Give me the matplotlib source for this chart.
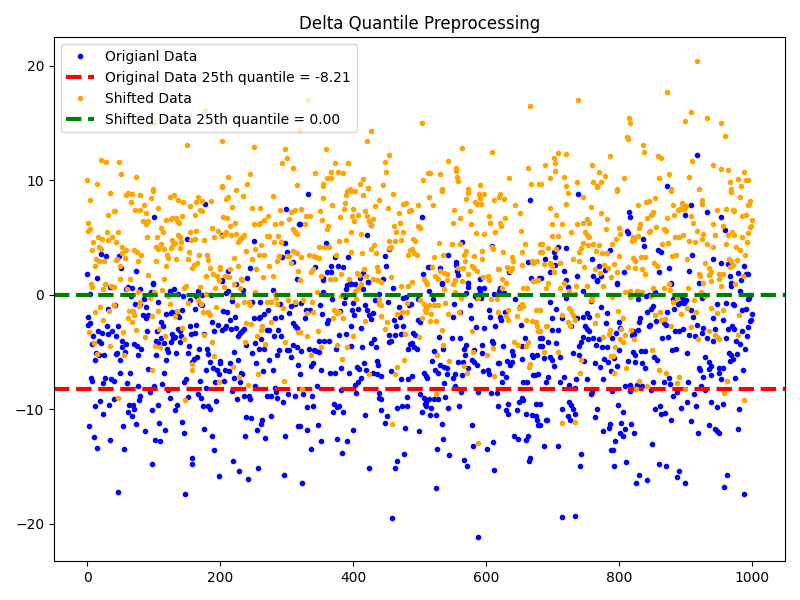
import numpy as np
import matplotlib
matplotlib.use("Agg")
import matplotlib.pyplot as plt

# (index, value) pairs of the original data
left_low = [(46,-17.2),(147,-17.4),(97,-14.8),(157,-14.3),(158,-14.8),(219,-14.5),(228,-15.4),(242,-16.1),(257,-15.1),(198,-15.8),(296,-15.7),
(191,-13.6),(55,-13.5),(15,-13.4),(34,-12.7),(10,-12.4),(102,-12.7),(109,-12.8),(145,-12.1),(188,-12.3),(237,-12.3),(267,-12.5),(297,-12.3),(3,-11.5),(54,-11.5),(73,-11.3),(87,-11.9),(108,-11.2),(117,-11.8),(142,-11.1),(176,-11.7),(255,-11.8),(261,-11.3),(263,-10.9),(239,-10.7),(246,-10.8),(276,-10.6),(317,-11.5),
(24,-10.4),(67,-10.6),(61,-10.2),(70,-10),(63,-9.6),(69,-9.6),(12,-9.7),(19,-9.3),(33,-9.6),(40,-9.1),(78,-9.2),(79,-8.8),(97,-10.1),(106,-9.6),(124,-9),(132,-10.1),(135,-9.6),(151,-8.9),(166,-8.7),(171,-9),(174,-9.7),(181,-9.7),(184,-10),(194,-9.3),(225,-9.1),(236,-8.8),(243,-8.8),(245,-9.1),(270,-8.8),(276,-8.8),(285,-9),(294,-9.4),(302,-8.7),(312,-8.8),(284,-8.5),
(77,-8),(100,-8),(94,-8.5),(121,-8.3),(179,-8.1),(218,-8.4),(282,-8.1),(252,-8)]
left_mid = [(6,-7.3),(7,-7.5),(27,-7.3),(24,-7.7),(36,-7.4),(40,-7.5),(60,-7.7),(49,-6.8),(64,-6.8),(91,-6.5),(115,-6.8),(112,-7.8),(149,-7.4),(146,-7.6),(169,-7.5),(192,-7.6),(206,-7.5),(179,-6.6),(189,-6.4),(195,-6.6),(198,-6.9),(207,-6.6),(213,-6.7),(199,-5.8),(200,-6),(184,-5.9),(215,-6),(227,-5.7),(221,-7.3),(230,-7.6),(231,-6.8),(233,-6.9),(264,-6.7),(279,-6.6),(254,-6),(273,-5.7),(317,-6.1),
(12,-5.7),(49,-5.7),(118,-5.7),(160,-5.6),(165,-5.4),(158,-5.9),(13,-5.1),(25,-5.3),(18,-5.3),(43,-5.2),(45,-5.1),(57,-5),(76,-5.3),(103,-5.3),(121,-5),(120,-4.7),(134,-5.1),(151,-5.1),(168,-4.7),(182,-5.2),(180,-4.7),(221,-5),(248,-5.1),(258,-4.7),(266,-4.7),(285,-5.3),(288,-4.8),(300,-4.8),(303,-4.8),(306,-5.4),(309,-4.4),(315,-4.6)]
left_high = [(7,-4.3),(18,-4),(21,-4.2),(52,-4),(58,-4.3),(53,-4.6),(70,-4.3),(75,-4.5),(81,-4.7),(103,-4),(106,-4.2),(111,-3.8),(115,-4.2),(126,-4.1),(129,-3.8),(127,-3.4),(132,-3.7),(139,-4.1),(153,-4.5),(141,-3.6),(136,-3),(139,-3.2),(154,-2.7),(164,-2.6),(156,-3.4),(162,-3.3),(176,-3.4),(191,-3.2),(188,-2.4),(197,-2.6),(203,-3.1),(207,-2.9),(209,-2.7),(216,-3),(224,-2.9),(215,-2.2),(222,-1.9),(204,-1.4),(210,-1.5),(227,-3.6),(230,-3.3),(233,-3.2),(236,-3),(239,-4.4),(252,-4.2),(261,-3.9),(281,-3.6),(291,-3.6),(273,-3.1),(270,-3.1),(287,-3.1),(309,-2.5),(312,-2.7),(315,-2.9),(282,-2),(291,-1.9),(303,-1.6),(260,-1.9),(266,-1.7),(272,-1.3),(251,-2),(258,-2),
(1,-1.9),(1,-2.6),(4,-2.5),(8,-3.6),(16,-3.2),(22,-3.3),(30,-2.7),(31,-3.4),(37,-3.2),(43,-3.6),(46,-2.7),(31,-1.2),(40,-0.9),(72,-0.8),(79,-0.8),(88,-1.1),(84,-1.8),(88,-2),(90,-3.2),(91,-1.8),(106,-0.6),(118,-1.7),(126,-1.6),(142,-1.3),(135,-1.8),(111,-2.4),(114,-2.7),(105,-3.2),(144,-0.1),(162,-1.2),(169,-0.8),(166,0.3),(260,-0.6),(4,0.1),(99,0.9),(79,0.5),(130,0.5),(124,0.3),(203,1.2)]
middle_low = [(323,-16.4),(458,-19.5),(524,-16.9),(424,-15.1),(463,-15.1),(466,-14.5),(476,-13.9),(337,-13.5),(383,-13.8),(352,-12.8),(376,-12.6),(391,-12.8),(400,-11.8),(331,-11.8),(347,-11.4),(320,-11.5),(448,-11.2),(478,-11.6),(499,-11.9),(533,-11.3),(535,-12.6),(526,-13.5),(544,-14),(566,-14.4),(571,-15),(612,-15.3),(580,-13.2),(601,-13.5),(610,-12.9),(579,-11.4),(642,-12.3),(648,-12.6),(660,-12.7),(663,-12.3),(666,-14.3),(664,-14.5),(678,-11.4),
(418,-10.5),(451,-10.6),(442,-10.1),(370,-10.2),(385,-10.2),(379,-9.7),(371,-9.5),(376,-9.8),(331,-9.8),(340,-9.7),(466,-9.9),(473,-9.7),(481,-9.7),(503,-10.2),(508,-9.5),(509,-9.7),(517,-9.9),(515,-10.5),(524,-10.5),(542,-9.9),(559,-9.7),(618,-9.7),(630,-10.1),(633,-10.4),(646,-10.1),(660,-10.4),(669,-10.5),(675,-10.6),(676,-10.9),(633,-9.5),(649,-9.4),(655,-9.2),(675,-9.5),
(324,-8.7),(338,-8.8),(404,-8.6),(439,-8.6),(439,-9),(442,-9.1),(481,-8.9),(500,-8.7),(506,-9),(514,-9.1),(521,-9.1),(527,-9.1),(538,-8.9),(562,-8.5),(588,-8.5),(607,-8.6),(616,-8.6),(654,-9),(509,-9.4),
(346,-8),(382,-8.3),(403,-7.9),(407,-7.6),(412,-7.3),(472,-7.4),(482,-7.4),(488,-7.1),(536,-7.7),(550,-7.3),(553,-6.9),(563,-7),(553,-8),(630,-7.2),(624,-7.6),(655,-7.6),(661,-7.6),(670,-7),(673,-7),(678,-6.9)]
middle_mid = [(352,-6.6),(365,-6.8),(373,-6.8),(382,-6.4),(394,-6.8),(406,-6.3),(409,-6.5),(416,-6),(419,-6.6),(430,-6.8),(436,-6.9),(442,-7.1),(436,-5.8),(437,-6.1),(457,-6.7),(506,-6.8),(509,-7.1),(511,-7.3),(523,-6.6),(527,-6.8),(530,-6.1),(536,-6.3),(541,-6.4),(541,-6.9),(518,-5.8),(557,-5.9),(565,-5.9),(572,-6.4),(578,-5.7),(582,-5.9),(586,-6.1),(595,-6.7),(603,-6.6),(604,-6.9),(618,-6),(619,-6),(624,-6.8),(631,-5.8),(636,-6.1),(639,-5.9),(640,-5.3),(654,-5.6),(669,-5.3),(670,-5.4),(676,-5.3),
(340,-6),(337,-6.2),(334,-4.7),(341,-4.8),(344,-4.9),(349,-5),(322,-4.9),(320,-6.9),(374,-4.7),(397,-4.5),(413,-4.6),(427,-4.2),(431,-3.9),(434,-4.6),(454,-4.1),(457,-4),(454,-3.5),(463,-3.5),(472,-3.4),(482,-4.7),(485,-4.3),(488,-4.2),(491,-4.6),(496,-4.7),(490,-3.3),(493,-3.5),(521,-4.9),(529,-3.7),(535,-4.7),(548,-3.8),(560,-3.8),(566,-4.7),(568,-5.3),(569,-4.4),(582,-4.8),(594,-4.4),(594,-5.1),(609,-4),(610,-4.2),(625,-4.5),(639,-4.9),(654,-4.5),(658,-3.8)]
middle_high = [(349,-4),(356,-4),(364,-4),(379,-3.5),(389,-3.4),(412,-2.9),(397,-2.7),(464,-2.7),(475,-2.7),(461,-2.2),(497,-2.2),(500,-2.4),(577,-2),(585,-2.8),(597,-2.9),(613,-2.7),(622,-2.2),(621,-1.9),(652,-2.6),(604,-1.3),(606,-1.9),(576,-0.9),(551,-0.8),(560,-1.5),(550,-1.9),(361,-2.5),(362,-2.2),(328,-2),(329,-1.3),(335,-1.3),(353,-1.7),(350,-0.9),(386,-0.7),(398,-1.3),(400,-0.7),(407,-1.2),(401,-1.8),(418,-0.9),(421,-1.3),(424,-1.8),(427,-2.1),(430,-1.6),(452,-0.6),(469,-1.1),(470,-1.9),
(389,0.5),(397,0.9),(403,0.9),(422,1.1),(475,-0.3),(514,0.3),(533,0.9),(572,1),(573,0.7),(368,-0.4),(589,0.6),(597,0.6),(619,0.3),(586,-0.3),(643,-0.4),(355,1.3)]
right_low = [(713,-19.4),(734,-19.3),(988,-17.4),(958,-16.8),(962,-15.7),(899,-16.4),(887,-15.9),(890,-15.4),(842,-16.2),(825,-16.4),(830,-15.7),(870,-15),(860,-14.8),(810,-14.6),(792,-15),(741,-15),(743,-13.9),(788,-13.6),(791,-13.6),(849,-13),(794,-12.8),(687,-13.2),(707,-13.2),(776,-11.9),(785,-11.6),(786,-11.3),(803,-11.2),(801,-12.1),(806,-12.3),(809,-11.7),(818,-11.3),(822,-12.1),(908,-11),(918,-12.1),(935,-11.4),(943,-11.7),(946,-11.9),(949,-12.1),(979,-11.7),(878,-10.9),(764,-10.7),(767,-10),(806,-10.2),(798,-9.6),(854,-10),(861,-9.7),(863,-10.4),(869,-10.3),(893,-9.9),(902,-9.4),(915,-9.7),(938,-9.4),(947,-9.8),(956,-9.5),(980,-10),(714,-10),(723,-10.6),(726,-10.9),(734,-10.4),(725,-9.4),(728,-9.6),(731,-10),(680,-9.5),(680,-11.4),(690,-10.9),(691,-10.9),
(758,-8.7),(759,-8.5),(816,-8.4),(881,-8.8),(887,-8.5),(912,-8.7),(929,-8.3),(725,-7.9),(734,-8.1),(809,-8),(816,-7.9),(827,-7.9),(834,-8),(848,-8.3),(789,-8.4),(711,-7.6),(717,-7.2),(693,-7.2),(690,-7.6),(735,-7.4),(752,-7.4),(776,-7.4),(851,-7.6),(867,-7.6),(875,-7.3),(876,-7.8),(903,-7.6),(923,-8),(926,-7.2),(937,-7),(953,-7.4),(974,-7.3)]
right_mid = [(701,-6.2),(711,-5.4),(699,-5.7),(695,-5.4),(686,-5.5),(747,-5.8),(764,-6),(771,-6.3),(788,-6.7),(797,-6.2),(777,-5.6),(783,-5.9),(792,-5.5),(813,-5.8),(824,-5.9),(834,-6),(839,-6.4),(920,-6.4),(921,-6.6),(938,-6.2),(934,-5.9),(929,-5.4),(935,-6.5),(950,-6.4),(956,-6.4),(950,-6.8),(986,-6.6),(967,-5.8),(971,-5.6),(965,-5.1),(977,-5.2),(968,-5.3),(852,-5.4),(857,-5.7),(902,-5.1),(879,-4.8),(885,-4.7),
(693,-4.1),(705,-4.2),(680,-3.8),(684,-3.8),(684,-4.5),(680,-4.5),(731,-5.1),(740,-5.3),(740,-4.5),(746,-3.7),(743,-4.1),(753,-3.9),(761,-3.8),(765,-4.4),(770,-3.9),(774,-4.6),(782,-4.6),(789,-3.8),(795,-3.3),(800,-4.8),(821,-5),(824,-5.3),(833,-4.9),(839,-4.9),(822,-3.4),(819,-3.5),(864,-3.8),(873,-3.7),(905,-3.5),(914,-3.6),(932,-3.8),(940,-4),(961,-3.8),(976,-4),(982,-4.3),(989,-4.7),(992,-3.6)]
right_high = [(698,-3.1),(708,-3.1),(699,-2),(714,-2),(705,-1.2),(696,-0.6),(728,-2.7),(737,-2),(746,-1.9),(752,-1.6),(755,-1.9),(749,-2.7),(752,-3),(755,-3.2),(773,-1.1),(782,-1.6),(780,-2.5),(800,-2.4),(801,-2.9),(828,-3.1),(821,-3.2),(830,-2.4),(831,-2),(842,-1.5),(848,-1.2),(851,-1),(845,-2.7),(846,-2.6),(855,-2.3),(867,-2.5),(870,-2.6),(872,-1.5),(882,-1.2),(884,-3.2),(890,-3.2),(896,-3),(911,-1.9),(917,-2.6),(924,-3.3),(926,-2.9),(941,-2),(944,-3),(946,-0.8),(955,-2.2),(961,-0.7),(964,-3),(970,-2.7),(971,-0.8),(973,-3),(985,-3.2),(985,-1.3),(991,-1.2),(994,-2.8),(997,-2.3),(998,-2.2),(999,-1.7),
(719,-0.3),(722,0.7),(746,0.3),(767,1.2),(797,0.9),(828,-0.4),(878,0.9),(888,-0.8),(891,-0.7),(896,-0.4),(899,-0.5),(924,0.1),(968,0.8),(982,0.3),(995,-0.3)]
top_left = [(150,4.86),(203,5.2),(251,4.7),(297,4.5),(300,3.7),(293,3.3),(309,2.9),(21,3.6),(28,3.4),(48,3.4),(51,2.3),(73,2.1),(0,1.8),(15,1.5),(99,1),(212,2.1),(245,2.3),(240,1.5),(202,1.3),(315,1.4),(177,7.9),(101,6.8),(299,7.5),(318,6.2)]
top_middle = [(332,8.8),(320,6.2),(427,6.1),(421,5.2),(359,4.5),(454,4),(448,3.4),(373,3.3),(392,3.3),(367,2.5),(377,2.5),(385,2.4),(343,2.4),(361,2),(367,2),(415,1.9),(410,1.5),(355,1.5),(449,2.5),(445,1.4),(422,1.1),(503,6.8),(666,8.3),(563,4.6),(609,4.3),(542,3.5),(554,2.9),(555,2.6),(556,2.1),(558,1.7),(512,2.4),(515,2.4),(530,2.3),(505,1.8),(533,1),(572,1),(590,1.4),(634,2),(663,2.9),(667,1.5),(395,1),(679,1.5)]
top_right = [(917,12.2),(872,9.5),(738,8.8),(908,7.8),(899,7),(932,7.2),(953,6.8),(959,5.7),(815,7.2),(816,6.8),(812,5.6),(813,5.4),(836,4.9),(837,4.3),(858,3.9),(863,3.7),(909,3.5),(941,3.1),(952,2.8),(964,2.7),(988,2.5),(979,1.9),(991,1.8),(994,1.8),(967,1.6),(983,1.3),(875,2.3),(860,2),(905,2.1),(807,2),(786,3.9),(759,3.1),(770,2.5),(779,2.2),(761,1.6),(773,1.6),(767,1.3),(737,1.6),(720,1.3),(716,2.1),(703,2.6),(696,2),(702,3.7),(703,3.3),(708,4.2),(720,4.1),(688,3.1),(682,1.5),(797,1),(878,1),(920,1),(968,1)]
near_zero = [(34,0.67),(58,0.5),(61,0.67),(67,0.58),(96,0.23),(66,-0.12),(85,-0.4),(42,-0.9),(136,0.05),(154,-0.47),(163,-0.12),(172,-0.03),(186,-0.03),(172,-0.9),(224,0.93),(234,0.4),(212,0.3),(209,0.14),(218,-0.56),(248,-0.64),(279,0.4),(290,-0.8),(306,-1),(312,-0.8),(133,-1.5),(127,-1.5),(138,-1.9),
(391,0.84),(415,0.5),(460,0.58),(355,0.23),(569,0.14),(591,0.23),(621,0.58),(627,0.14),(612,0.05),(583,-0.12),(592,-0.3),(388,-0.2),(439,0.05),(433,-0.47),(479,-0.2),(497,-0.38),(520,-0.38),(321,-0.73),(484,-0.9),(487,-0.82),(651,-1.1),(628,-1.5),(380,-1.4),
(758,-0.56),(840,-0.12),(845,-0.03),(854,0.23),(881,-0.38),(894,-0.2),(900,-0.47),(897,-0.73),(924,-0.3),(973,-0.9),(997,-0.03),(994,-0.38),(907,-1.3)]
extra = [(588,-21.2)]

quantile_25 = -8.21

regions = [left_low, left_mid, left_high, middle_low, middle_mid, middle_high,
           right_low, right_mid, right_high, top_left, top_middle, top_right, near_zero, extra]
pts = np.array([p for r in regions for p in r])
index, original = pts[:, 0], pts[:, 1]
shifted = original - quantile_25

fig, ax = plt.subplots(figsize=(8, 6), dpi=100)
ax.plot(index, original, '.', color='blue', label='Origianl Data')
ax.axhline(quantile_25, color='red', linestyle='--', linewidth=3,
           label=f'Original Data 25th quantile = {quantile_25:.2f}')
ax.plot(index, shifted, '.', color='orange', label='Shifted Data')
ax.axhline(0, color='green', linestyle='--', linewidth=3,
           label='Shifted Data 25th quantile = 0.00')
ax.set_title('Delta Quantile Preprocessing')
ax.legend(loc='upper left')
fig.tight_layout()
fig.savefig('out.png')
